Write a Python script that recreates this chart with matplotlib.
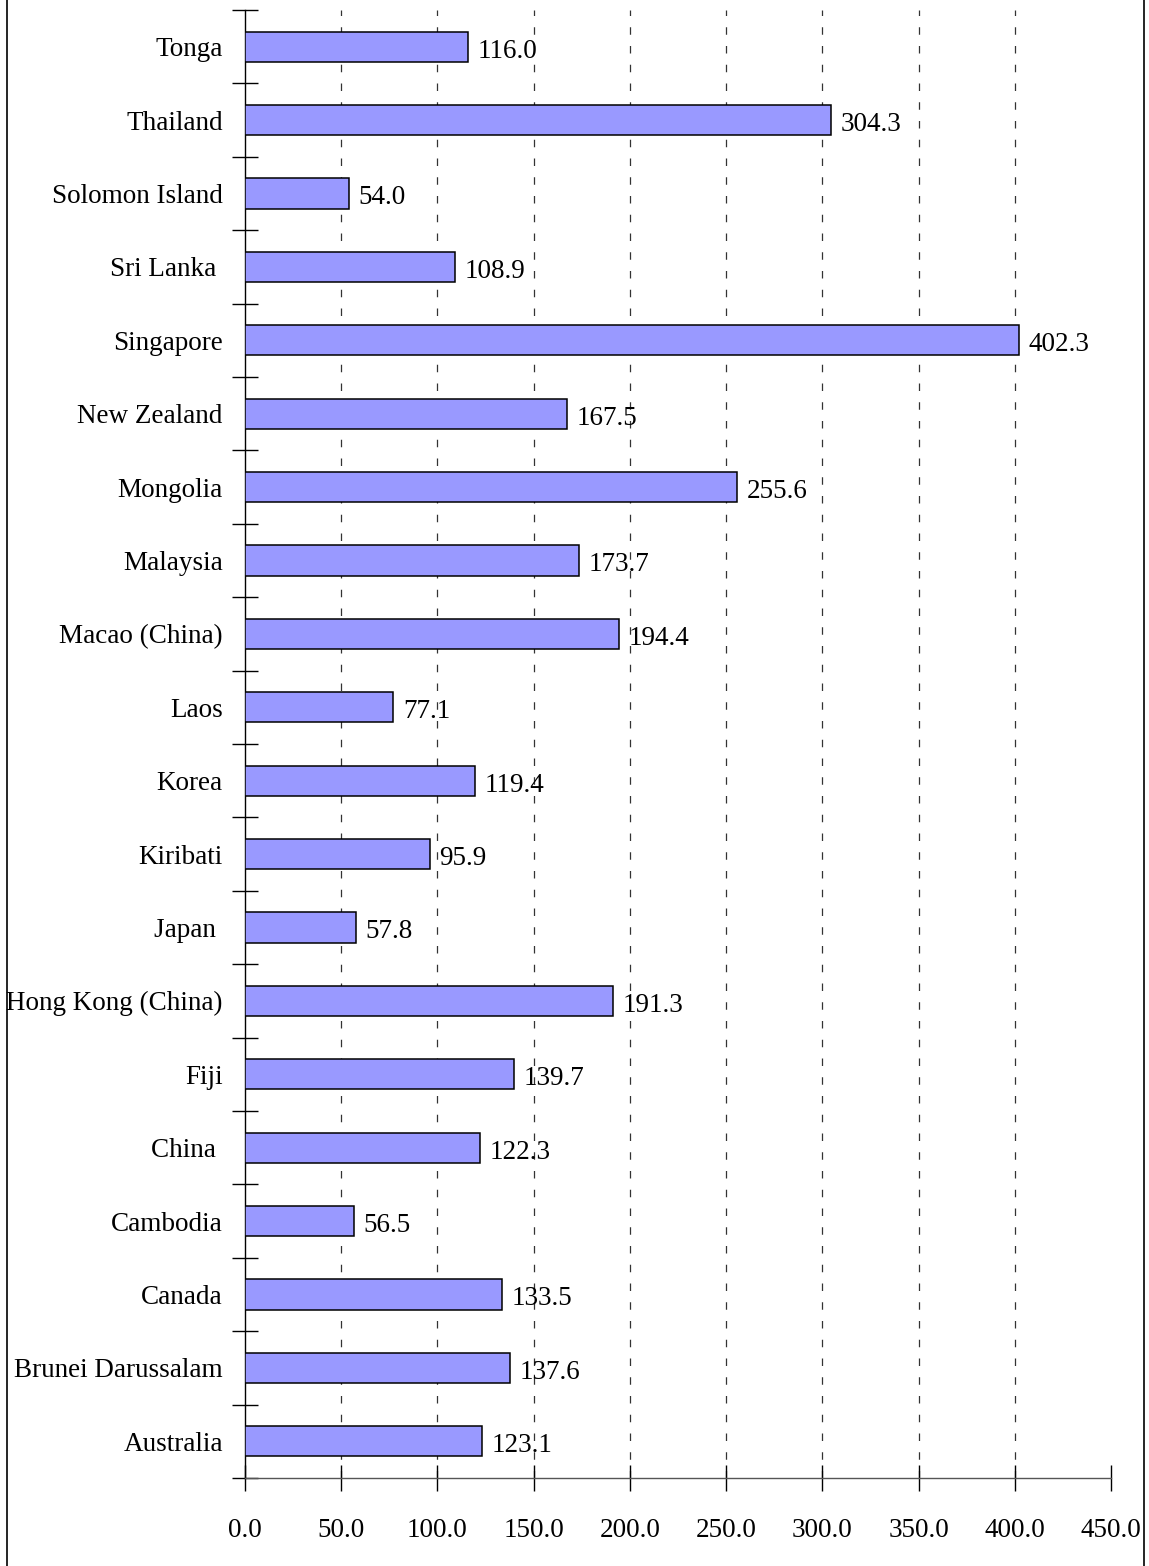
import numpy as np
import matplotlib.pyplot as plt
import matplotlib
from matplotlib.lines import Line2D
from matplotlib.ticker import FixedLocator

matplotlib.rcParams['font.family'] = ['Liberation Serif', 'DejaVu Serif']

# data, bottom to top
countries = ["Australia", "Brunei Darussalam", "Canada", "Cambodia", "China ",
             "Fiji", "Hong Kong (China)", "Japan ", "Kiribati", "Korea",
             "Laos", "Macao (China)", "Malaysia", "Mongolia", "New Zealand",
             "Singapore", "Sri Lanka ", "Solomon Island", "Thailand", "Tonga"]
values = [123.1, 137.6, 133.5, 56.5, 122.3,
          139.7, 191.3, 57.8, 95.9, 119.4,
          77.1, 194.4, 173.7, 255.6, 167.5,
          402.3, 108.9, 54.0, 304.3, 116.0]
xticks = [0, 50, 100, 150, 200, 250, 300, 350, 400, 450]

FS = 19.5
W, H = 1149, 1566
fig = plt.figure(figsize=(W / 100, H / 100), dpi=100)
ax = fig.add_axes([245 / W, 1 - 1478 / H, (1111 - 245) / W, (1478 - 10) / H])

y = np.arange(len(countries))
ax.barh(y, values, height=0.41, color='#9999FF', edgecolor='black',
        linewidth=1.1, zorder=3)

# value labels just right of each bar
for yi, v in zip(y, values):
    ax.text(v + 5, yi - 0.06, f"{v:.1f}", ha='left', va='center', fontsize=FS,
            zorder=4)

# dashed gridlines at 50..400
for gx in xticks[1:-1]:
    ax.axvline(gx, color='#333333', linestyle=(0, (6, 9)), linewidth=0.9, zorder=1)

ax.set_xlim(0, 450)
ax.set_ylim(-0.5, len(countries) - 0.5)
ax.set_xticks(xticks)
ax.set_xticklabels([f"{t:.1f}" for t in xticks], fontsize=FS)
ax.set_yticks(y)
ax.set_yticklabels(countries, fontsize=FS)
ax.yaxis.set_minor_locator(FixedLocator(np.arange(-0.5, len(countries), 1.0)))

ax.tick_params(axis='y', which='major', length=0, pad=16)
ax.tick_params(axis='y', which='minor', direction='inout', length=19, width=1)
ax.tick_params(axis='x', which='major', direction='inout', length=19, width=1,
               pad=19)

ax.spines['top'].set_visible(False)
ax.spines['right'].set_visible(False)
ax.spines['left'].set_linewidth(1)
ax.spines['bottom'].set_linewidth(1)
ax.spines['bottom'].set_color('#555555')

# outer frame lines (left and right only)
fig.add_artist(Line2D([6.5 / W, 6.5 / W], [0, 1], color='black', linewidth=1.2,
                      transform=fig.transFigure))
fig.add_artist(Line2D([1143.5 / W, 1143.5 / W], [0, 1], color='black',
                      linewidth=1.2, transform=fig.transFigure))

fig.savefig("out.png", dpi=100)
